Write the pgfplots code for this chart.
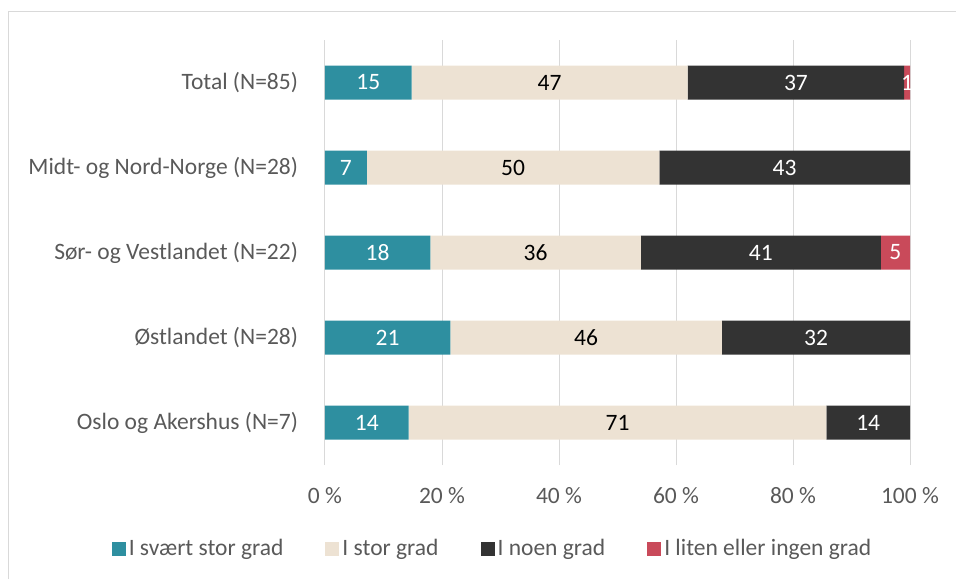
\documentclass[border=0pt]{standalone}
\usepackage{pgfplots}
\pgfplotsset{compat=1.18}
\usepackage{fontspec}
\setmainfont{Carlito}
\definecolor{cteal}{HTML}{2E8FA0}
\definecolor{cbeige}{HTML}{EDE2D3}
\definecolor{cdark}{HTML}{333333}
\definecolor{cred}{HTML}{C94A5A}
\definecolor{ctxt}{HTML}{595959}
\definecolor{cgrid}{HTML}{D9D9D9}
\newcommand{\cfont}{\fontsize{23.5}{27}\selectfont}
\pgfplotsset{
  geom/.style={at={(325pt,114pt)}, anchor=south west,
    width=585pt, height=425pt, scale only axis,
    xmin=0, xmax=100, ymin=-0.5, ymax=4.5},
  lbl/.style={draw=none, mark=none, only marks, nodes near coords,
    point meta=explicit symbolic,
    every node near coord/.append style={anchor=center, font=\cfont, text=#1}},
}
\begin{document}
\cfont
\begin{tikzpicture}[x=1pt,y=1pt]
\useasboundingbox (0,0) rectangle (956,579);
\draw[cgrid, line width=1pt] (8,0) -- (8,567) -- (956,567);
\begin{axis}[
  geom,
  xbar stacked, bar width=34pt,
  ytick={0,...,4},
  yticklabels={Oslo og Akershus (N=7), Østlandet (N=28), Sør- og Vestlandet (N=22), Midt- og Nord-Norge (N=28), Total (N=85)},
  xtick={0,20,...,100},
  xticklabel={\pgfmathprintnumber[assume math mode=true]{\tick} \%},
  /pgf/number format/assume math mode=true,
  axis line style={draw=none},
  tick style={draw=none},
  major tick length=0pt,
  xmajorgrids, major grid style={cgrid, line width=1pt},
  tick label style={text=ctxt, font=\cfont},
  yticklabel style={xshift=-19pt},
  xticklabel style={yshift=-14pt},
  legend style={at={(0.2872,-0.198)}, anchor=center, draw=none, fill=none, legend columns=4,
    /tikz/every even column/.append style={column sep=39pt},
    font=\cfont, text=ctxt, inner sep=0pt, nodes={inner sep=3pt}},
  legend image code/.code={\fill[#1] (-5pt,-7pt) rectangle (9pt,7pt);},
]
\addplot[fill=cteal, draw=none]
  coordinates {(14.29,0) (21.43,1) (18.0,2) (7.14,3) (14.8,4)};
\addplot[fill=cbeige, draw=none]
  coordinates {(71.43,0) (46.43,1) (36.0,2) (50.0,3) (47.2,4)};
\addplot[fill=cdark, draw=none]
  coordinates {(14.28,0) (32.14,1) (41.0,2) (42.86,3) (37.0,4)};
\addplot[fill=cred, draw=none]
  coordinates {(0,0) (0,1) (5.0,2) (0,3) (1.0,4)};
\legend{I svært stor grad, I stor grad, I noen grad, I liten eller ingen grad}
\end{axis}
\begin{axis}[geom, hide axis, clip=false]
\addplot[lbl=white] table[meta=l] {
x y l
7.14 0 14
10.71 1 21
9.0 2 18
3.57 3 7
7.4 4 15
};
\addplot[lbl=black] table[meta=l] {
x y l
50.0 0 71
44.64 1 46
36.0 2 36
32.14 3 50
38.4 4 47
};
\addplot[lbl=white] table[meta=l] {
x y l
92.86 0 14
83.93 1 32
74.5 2 41
78.57 3 43
80.5 4 37
};
\addplot[lbl=white] table[meta=l] {
x y l
97.5 2 5
99.5 4 1
};
\end{axis}
\end{tikzpicture}
\end{document}
